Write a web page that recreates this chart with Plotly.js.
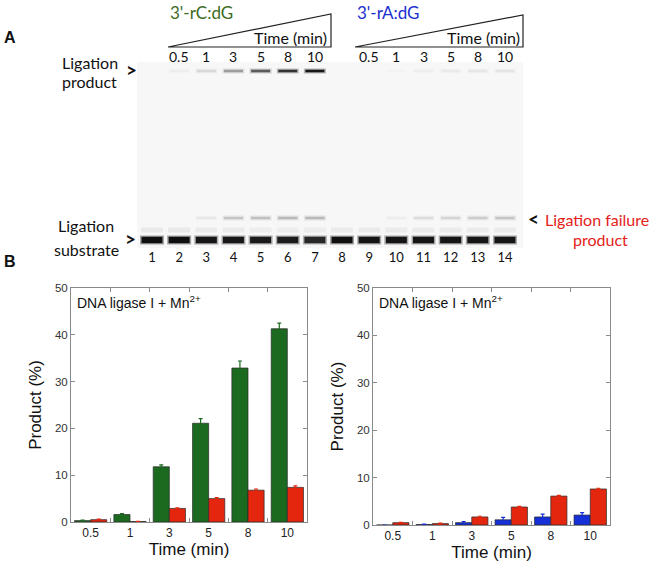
<!DOCTYPE html>
<html>
<head>
<meta charset="utf-8">
<script src="https://cdn.plot.ly/plotly-3.0.1.min.js"></script>
<style>html,body{margin:0;padding:0;background:#fff}#chart{width:659px;height:563px}</style>
</head>
<body>
<div id="chart"></div>
<script>
// ---------- DATA ----------
// Gel (panel A)
const lanes = [1,2,3,4,5,6,7,8,9,10,11,12,13,14];
const laneLabels = ['1','2','3','4','5','6','7','8','9','10','11','12','13','14'];
const timeLabels = ['0.5','1','3','5','8','10'];
const rCLanes = [2,3,4,5,6,7];
const rALanes = [9,10,11,12,13,14];
// band intensities (0 = none, 1 = black)
const productIntensity   = [0, 0.03, 0.1, 0.32, 0.6, 0.8, 0.95, 0, 0, 0.01, 0.03, 0.045, 0.055, 0.06];
const failureIntensity   = [0, 0, 0.05, 0.17, 0.19, 0.22, 0.22, 0, 0, 0.03, 0.09, 0.12, 0.15, 0.17];
const shadowIntensity    = [0.06,0.06,0.05,0.05,0.045,0.045,0.045,0.05,0.05,0.05,0.05,0.05,0.05,0.05];
const substrateIntensity = [1, 1, 0.96, 0.95, 0.93, 0.92, 0.85, 1, 0.97, 0.96, 0.96, 0.96, 0.96, 0.96];

// Bar charts (panel B)
const times = ['0.5','1','3','5','8','10'];
const rCdG_product     = [0.3, 1.6, 11.8, 21.1, 32.9, 41.3];
const rCdG_product_err = [0.1, 0.2, 0.4, 1.0, 1.5, 1.2];
const rCdG_failure     = [0.5, 0.1, 2.9, 5.0, 6.8, 7.4];
const rCdG_failure_err = [0.1, 0.05, 0.15, 0.2, 0.25, 0.3];
const rAdG_product     = [0.0, 0.1, 0.5, 1.1, 1.7, 2.1];
const rAdG_product_err = [0.0, 0.1, 0.2, 0.5, 0.6, 0.5];
const rAdG_failure     = [0.5, 0.3, 1.7, 3.8, 6.1, 7.6];
const rAdG_failure_err = [0.05, 0.1, 0.15, 0.15, 0.15, 0.15];
const yTicks = [0,10,20,30,40,50];

// ---------- LAYOUT HELPERS ----------
const W = 659, H = 563;
const px = x => x / W;
const py = y => 1 - y / H;
const LANE0 = 152, LANESTEP = 27.15;           // pixel position of lane 1 and lane pitch
const gelL = 137, gelR = 523, gelT = 62, gelB = 248;
const laneAt = p => 1 + (p - LANE0) / LANESTEP;
// band rows: migration distance from the top of the gel (px)
const ROW_PRODUCT = 9, ROW_FAILURE = 156, ROW_SHADOW = 168, ROW_SUBSTRATE = 178;
const LEN = l => l / 1.4;   // Plotly's line-ew marker is 1.4 x size long

const GREEN = '#1b6a20', RED = '#e5260f', BLUE = '#1530d6';
const gelFont = 'Lato, "Open Sans", sans-serif';
const chartFont = '"Liberation Sans", Arial, sans-serif';

function bandTrace(row, intens, length, width, alphaScale) {
  const cols = intens.map(v => 'rgba(15,15,15,' + Math.min(1, v * alphaScale).toFixed(3) + ')');
  return {
    type: 'scatter', mode: 'markers', xaxis: 'x3', yaxis: 'y3',
    x: lanes, y: lanes.map(() => row), hoverinfo: 'skip',
    marker: { symbol: 'line-ew-open', size: LEN(length), color: cols, line: { width: width, color: cols } }
  };
}

function bar(x, y, err, color, xa, ya) {
  return {
    type: 'bar', x: x, y: y, xaxis: xa, yaxis: ya,
    marker: { color: color, line: { color: '#2a2a2a', width: 0.7 } },
    error_y: { type: 'data', array: err, visible: true, color: color, thickness: 1.2, width: 2 }
  };
}

const traces = [
  // gel bands: halo + core
  bandTrace(ROW_PRODUCT, productIntensity, 22, 5, 0.3),
  bandTrace(ROW_PRODUCT, productIntensity, 19, 2.6, 1.0),
  bandTrace(ROW_FAILURE, failureIntensity, 22, 5, 0.4),
  bandTrace(ROW_FAILURE, failureIntensity, 19, 2.4, 0.9),
  bandTrace(ROW_SHADOW, shadowIntensity, 22, 5, 1.0),
  bandTrace(ROW_SUBSTRATE, substrateIntensity, 24, 9, 0.35),
  bandTrace(ROW_SUBSTRATE, substrateIntensity, 21, 6.5, 1.0),
  // bar charts
  bar(times, rCdG_product, rCdG_product_err, GREEN, 'x', 'y'),
  bar(times, rCdG_failure, rCdG_failure_err, RED, 'x', 'y'),
  bar(times, rAdG_product, rAdG_product_err, BLUE, 'x2', 'y2'),
  bar(times, rAdG_failure, rAdG_failure_err, RED, 'x2', 'y2')
];

function chartX(dom, yanchor) {
  return {
    domain: dom, anchor: yanchor, type: 'category',
    showline: true, linecolor: '#8a8a8a', linewidth: 1, mirror: 'ticks',
    ticks: 'inside', ticklen: 4, tickcolor: '#8a8a8a', tickson: 'boundaries',
    showgrid: false, zeroline: false,
    tickfont: { family: chartFont, size: 12, color: '#222' },
    title: { text: 'Time (min)', font: { family: chartFont, size: 17, color: '#111' }, standoff: 1 }
  };
}
function chartY(dom, xanchor) {
  return {
    domain: dom, anchor: xanchor, range: [0, 50], tickvals: yTicks,
    showline: true, linecolor: '#8a8a8a', linewidth: 1, mirror: 'ticks',
    ticks: 'inside', ticklen: 4, tickcolor: '#8a8a8a',
    showgrid: false, zeroline: false,
    tickfont: { family: chartFont, size: 11.5, color: '#333' },
    title: { text: 'Product (%)', font: { family: chartFont, size: 17, color: '#111' }, standoff: 8 }
  };
}

function txt(text, x, y, size, color, opts) {
  return Object.assign({
    text: text, x: px(x), y: py(y), xref: 'paper', yref: 'paper', showarrow: false,
    font: { family: gelFont, size: size, color: color || '#111' }, xanchor: 'center', yanchor: 'middle'
  }, opts || {});
}

const annotations = [
  txt('<b>A</b>', 10, 37, 16, '#111', { font: { family: '"Liberation Sans", Arial', size: 16, color: '#111' } }),
  txt('<b>B</b>', 10, 261, 16, '#111', { font: { family: '"Liberation Sans", Arial', size: 16, color: '#111' } }),
  txt("3'-rC:dG", 168, 13, 17, '#3d6b24', { xanchor: 'left' }),
  txt("3'-rA:dG", 355, 13, 17, '#1a2fd0', { xanchor: 'left' }),
  txt('Time (min)', 329, 38, 16, '#111', { xanchor: 'right' }),
  txt('Time (min)', 522, 38, 16, '#111', { xanchor: 'right' }),
  txt('Ligation', 90, 63, 16),
  txt('product', 90, 82, 16),
  txt('<b>></b>', 131, 69, 19),
  txt('Ligation', 86, 226, 16),
  txt('substrate', 86, 249, 16),
  txt('<b>></b>', 130, 239, 19),
  txt('<b><</b>', 533, 218, 19),
  txt('Ligation failure', 543, 219, 16, '#e32219', { xanchor: 'left' }),
  txt('product', 600, 240, 16, '#e32219'),
  txt('DNA ligase I + Mn<sup>2+</sup>', 75, 302, 14, '#111', { xanchor: 'left', font: { family: chartFont, size: 14, color: '#111' } }),
  txt('DNA ligase I + Mn<sup>2+</sup>', 377, 302, 14, '#111', { xanchor: 'left', font: { family: chartFont, size: 14, color: '#111' } })
];
// time labels above the gel lanes
rCLanes.concat(rALanes).forEach((ln, i) => {
  annotations.push({
    text: timeLabels[i % timeLabels.length], x: ln, xref: 'x3', y: py(57), yref: 'paper',
    showarrow: false, xanchor: 'center', yanchor: 'middle',
    font: { family: gelFont, size: 14, color: '#111' }
  });
});

const shapes = [
  // gel background
  { type: 'rect', xref: 'paper', yref: 'paper', x0: px(gelL), x1: px(gelR), y0: py(gelB), y1: py(gelT),
    fillcolor: '#f7f7f7', line: { width: 0 }, layer: 'below' },
  // wedges
  { type: 'path', xref: 'paper', yref: 'paper', line: { color: '#222', width: 1.2 },
    path: 'M ' + px(168) + ',' + py(47) + ' L ' + px(331) + ',' + py(47) + ' L ' + px(331) + ',' + py(14) + ' Z' },
  { type: 'path', xref: 'paper', yref: 'paper', line: { color: '#222', width: 1.2 },
    path: 'M ' + px(355) + ',' + py(47) + ' L ' + px(523) + ',' + py(47) + ' L ' + px(523) + ',' + py(15) + ' Z' }
];

const layout = {
  width: W, height: H, margin: { l: 0, r: 0, t: 0, b: 0 },
  paper_bgcolor: '#fff', plot_bgcolor: 'rgba(0,0,0,0)', showlegend: false,
  barmode: 'group', bargap: 0.18, bargroupgap: 0,
  xaxis: chartX([px(71), px(307)], 'y'),
  yaxis: chartY([py(522), py(288)], 'x'),
  xaxis2: chartX([px(373), px(610)], 'y2'),
  yaxis2: chartY([py(525), py(288)], 'x2'),
  xaxis3: {
    domain: [px(gelL), px(gelR)], anchor: 'y3', range: [laneAt(gelL), laneAt(gelR)],
    showgrid: false, zeroline: false, showline: false, ticks: '',
    tickvals: lanes, ticktext: laneLabels,
    tickfont: { family: gelFont, size: 13, color: '#111' }
  },
  yaxis3: { domain: [py(gelB), py(gelT)], anchor: 'x3', range: [gelB - gelT, 0], visible: false },
  annotations: annotations,
  shapes: shapes
};

Plotly.newPlot('chart', traces, layout, { displayModeBar: false, staticPlot: true });
</script>
</body>
</html>
